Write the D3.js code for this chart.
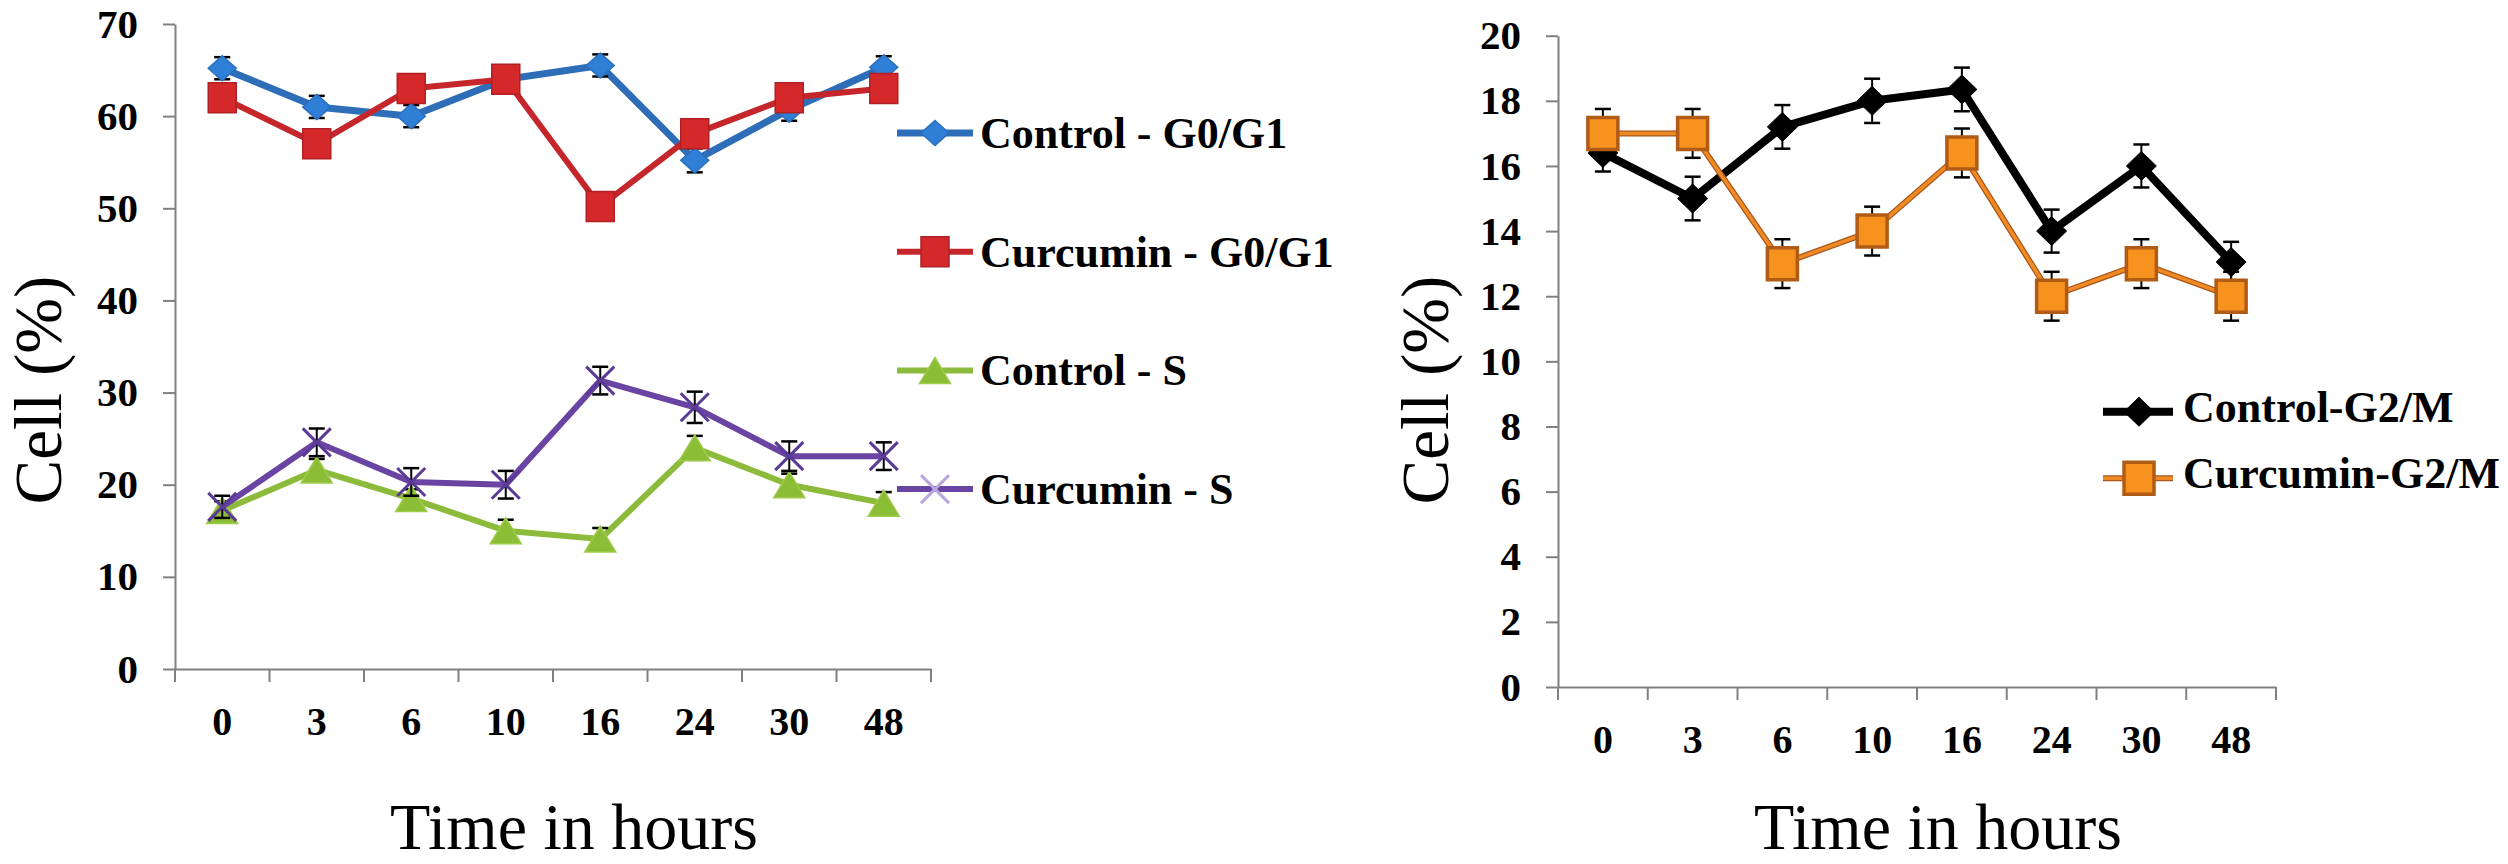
<!DOCTYPE html>
<html>
<head>
<meta charset="utf-8">
<script src="https://cdn.jsdelivr.net/npm/d3@7"></script>
<style>
  html, body { margin: 0; padding: 0; background: #ffffff; }
  svg { display: block; }
</style>
</head>
<body>
<svg id="chart" width="2508" height="864"></svg>
<script>
// ---------------- DATA ----------------
const hours = ["0", "3", "6", "10", "16", "24", "30", "48"];

// Left panel (G0/G1 and S phases)
const controlG0G1 = [65.2, 61, 60, 64, 65.5, 55.2, 60.7, 65.3];
const curcuminG0G1 = [62, 57, 63, 64, 50.2, 58.1, 62, 63];
const controlS = [17.2, 21.6, 18.5, 15, 14.1, 24, 20, 18];
const curcuminS = [17.6, 24.6, 20.3, 20, 31.3, 28.4, 23.1, 23.1];
const controlG0G1Err = [1.2, 1.2, 1.2, 1.0, 1.2, 1.3, 1.2, 1.2];
const curcuminG0G1Err = [1.0, 1.0, 1.0, 1.0, 1.0, 1.0, 1.0, 1.0];
const controlSErr = [1.0, 1.2, 1.0, 1.2, 1.2, 1.3, 1.2, 1.2];
const curcuminSErr = [1.2, 1.5, 1.5, 1.5, 1.5, 1.7, 1.6, 1.5];
const leftTicks = [0, 10, 20, 30, 40, 50, 60, 70];

// Right panel (G2/M phase)
const controlG2M = [16.4, 15, 17.2, 18, 18.35, 14, 16, 13.05];
const curcuminG2M = [17, 17, 13, 14, 16.4, 12, 13, 12];
const controlG2MErr = [0.57, 0.67, 0.67, 0.68, 0.67, 0.66, 0.66, 0.62];
const curcuminG2MErr = [0.75, 0.75, 0.75, 0.75, 0.75, 0.75, 0.75, 0.75];
const rightTicks = [0, 2, 4, 6, 8, 10, 12, 14, 16, 18, 20];

const leftNames = ["Control - G0/G1", "Curcumin - G0/G1", "Control - S", "Curcumin - S"];
const rightNames = ["Control-G2/M", "Curcumin-G2/M"];

// ---------------- SETUP ----------------
const svg = d3.select("#chart");
svg.append("rect").attr("width", 2508).attr("height", 864).attr("fill", "#fff");

const SERIF = "'Liberation Serif', 'Times New Roman', Times, serif";
const AXIS_COLOR = "#808080";

// marker path builders (centered at 0,0)
const shapes = {
  diamond: (w, h) => `M0,${-h / 2}L${w / 2},0L0,${h / 2}L${-w / 2},0Z`,
  square: (w, h) => `M${-w / 2},${-h / 2}H${w / 2}V${h / 2}H${-w / 2}Z`,
  triangle: (w, h) => `M0,${-h / 2}L${w / 2},${h / 2}L${-w / 2},${h / 2}Z`,
  cross: (w, h) => `M${-w / 2},${-h / 2}L${w / 2},${h / 2}M${w / 2},${-h / 2}L${-w / 2},${h / 2}`
};

function panel(cfg) {
  const g = svg.append("g");
  const x = d3.scaleBand().domain(hours).range(cfg.xRange).padding(0);
  const y = d3.scaleLinear().domain(cfg.yDomain).range(cfg.yRange);

  // Y axis
  const yAxis = d3.axisLeft(y).tickValues(cfg.ticks).tickSizeInner(12).tickSizeOuter(0).tickPadding(25)
    .tickFormat(d3.format("d"));
  const ya = g.append("g").attr("transform", `translate(${cfg.xRange[0]},0)`).call(yAxis);
  ya.select(".domain").attr("stroke", AXIS_COLOR).attr("stroke-width", 2);
  ya.selectAll(".tick line").attr("stroke", AXIS_COLOR).attr("stroke-width", 2);
  ya.selectAll(".tick text").attr("font-family", SERIF).attr("font-weight", "bold")
    .attr("font-size", 41).attr("fill", "#000");

  // X axis (labels centered in bands, ticks on band boundaries)
  const xAxis = d3.axisBottom(x).tickSizeInner(0).tickSizeOuter(0).tickPadding(0);
  const xa = g.append("g").attr("transform", `translate(0,${y(0)})`).call(xAxis);
  xa.select(".domain").attr("stroke", AXIS_COLOR).attr("stroke-width", 2);
  xa.selectAll(".tick text").attr("font-family", SERIF).attr("font-weight", "bold")
    .attr("font-size", 40).attr("fill", "#000").attr("y", 66).attr("dy", 0);
  const bounds = hours.map(h => x(h)).concat([x.range()[1]]);
  xa.selectAll(".bound").data(bounds).join("line").attr("class", "bound")
    .attr("x1", d => d).attr("x2", d => d).attr("y1", 0).attr("y2", 13)
    .attr("stroke", AXIS_COLOR).attr("stroke-width", 2);

  // Axis titles
  g.append("text")
    .attr("transform", `translate(${cfg.yTitleX},${cfg.yTitleY}) rotate(-90)`)
    .attr("text-anchor", "middle").attr("font-family", SERIF).attr("font-size", 67)
    .attr("fill", "#000").text("Cell (%)");
  g.append("text")
    .attr("x", cfg.xTitleX).attr("y", 849)
    .attr("text-anchor", "middle").attr("font-family", SERIF).attr("font-size", 66)
    .attr("fill", "#000").text("Time in hours");

  const cx = h => x(h) + x.bandwidth() / 2;

  // Series: line, then error bars, then markers on top
  cfg.series.forEach(s => {
    const pts = hours.map((h, i) => ({ h, v: s.values[i], e: s.err[i] }));
    const line = d3.line().x(d => cx(d.h)).y(d => y(d.v));
    if (s.edge) {
      g.append("path").datum(pts).attr("d", line).attr("fill", "none")
        .attr("stroke", s.edge).attr("stroke-width", s.lw + 2.5).attr("stroke-linejoin", "round");
    }
    g.append("path").datum(pts).attr("d", line).attr("fill", "none")
      .attr("stroke", s.color).attr("stroke-width", s.lw).attr("stroke-linejoin", "round");

    // error bars
    const eb = g.append("g").attr("stroke", "#000").attr("stroke-width", 2);
    eb.selectAll(".stem").data(pts).join("line").attr("class", "stem")
      .attr("x1", d => cx(d.h)).attr("x2", d => cx(d.h))
      .attr("y1", d => y(d.v - d.e)).attr("y2", d => y(d.v + d.e));
    eb.selectAll(".capT").data(pts).join("line").attr("class", "capT")
      .attr("x1", d => cx(d.h) - 8).attr("x2", d => cx(d.h) + 8)
      .attr("y1", d => y(d.v + d.e)).attr("y2", d => y(d.v + d.e)).attr("stroke-width", 2.5);
    eb.selectAll(".capB").data(pts).join("line").attr("class", "capB")
      .attr("x1", d => cx(d.h) - 8).attr("x2", d => cx(d.h) + 8)
      .attr("y1", d => y(d.v - d.e)).attr("y2", d => y(d.v - d.e)).attr("stroke-width", 2.5);

    // markers
    const mk = g.append("g");
    mk.selectAll("path").data(pts).join("path")
      .attr("transform", d => `translate(${cx(d.h)},${y(d.v)})`)
      .attr("d", shapes[s.shape](s.mw, s.mh))
      .attr("fill", s.shape === "cross" ? "none" : s.fill)
      .attr("stroke", s.mstroke).attr("stroke-width", s.msw);
  });

  // Legend
  const lg = g.append("g");
  cfg.series.forEach((s, i) => {
    const ly = cfg.legend.y0 + i * cfg.legend.dy;
    const item = lg.append("g").attr("transform", `translate(0,${ly})`);
    if (s.edge) {
      item.append("line").attr("x1", cfg.legend.x1).attr("x2", cfg.legend.x2)
        .attr("stroke", s.edge).attr("stroke-width", s.lw + 2.5);
    }
    item.append("line").attr("x1", cfg.legend.x1).attr("x2", cfg.legend.x2)
      .attr("stroke", s.color).attr("stroke-width", s.lw);
    item.append("path").attr("transform", `translate(${cfg.legend.mx},0)`)
      .attr("d", shapes[s.shape](s.lmw || s.mw, s.lmh || s.mh))
      .attr("fill", s.shape === "cross" ? "none" : s.fill)
      .attr("stroke", s.lmstroke || s.mstroke).attr("stroke-width", s.msw);
    item.append("text").attr("x", cfg.legend.tx).attr("y", cfg.legend.base)
      .attr("font-family", SERIF).attr("font-weight", "bold").attr("font-size", 44)
      .attr("fill", "#000").text(s.name);
  });
}

// ---------------- LEFT PANEL ----------------
panel({
  xRange: [175, 931], yDomain: [0, 70], yRange: [669, 24], ticks: leftTicks,
  yTitleX: 61, yTitleY: 390, xTitleX: 574,
  legend: { y0: 133, dy: 118.7, x1: 897, x2: 973, mx: 935, tx: 980, base: 15 },
  series: [
    { name: leftNames[0], values: controlG0G1, err: controlG0G1Err, color: "#2e6db8", lw: 7,
      shape: "diamond", mw: 28, mh: 25, fill: "#2f7fd6", mstroke: "#2a6fc0", msw: 1.5 },
    { name: leftNames[1], values: curcuminG0G1, err: curcuminG0G1Err, color: "#c4262b", lw: 6,
      shape: "square", mw: 28, mh: 30, fill: "#d4282b", mstroke: "#b02024", msw: 1.5 },
    { name: leftNames[2], values: controlS, err: controlSErr, color: "#8cbb3c", lw: 6,
      shape: "triangle", mw: 31, mh: 26, fill: "#8bbd36", mstroke: "#9fcb4a", msw: 1.5 },
    { name: leftNames[3], values: curcuminS, err: curcuminSErr, color: "#6944a2", lw: 6,
      shape: "cross", mw: 28, mh: 28, fill: "none", mstroke: "#5a3a94", msw: 3,
      lmstroke: "#b9a6dc" }
  ]
});

// ---------------- RIGHT PANEL ----------------
panel({
  xRange: [1558, 2276], yDomain: [0, 20], yRange: [687, 35.7], ticks: rightTicks,
  yTitleX: 1448, yTitleY: 390, xTitleX: 1938,
  legend: { y0: 411.7, dy: 66.5, x1: 2103, x2: 2173, mx: 2139, tx: 2183, base: 10 },
  series: [
    { name: rightNames[0], values: controlG2M, err: controlG2MErr, color: "#000000", lw: 8,
      shape: "diamond", mw: 30, mh: 29, fill: "#000000", mstroke: "#000000", msw: 1 },
    { name: rightNames[1], values: curcuminG2M, err: curcuminG2MErr, color: "#f08a24", lw: 3.5,
      edge: "#a8561a", shape: "square", mw: 30, mh: 32, fill: "#f7921e", mstroke: "#b05c17", msw: 3.5 }
  ]
});
</script>
</body>
</html>
